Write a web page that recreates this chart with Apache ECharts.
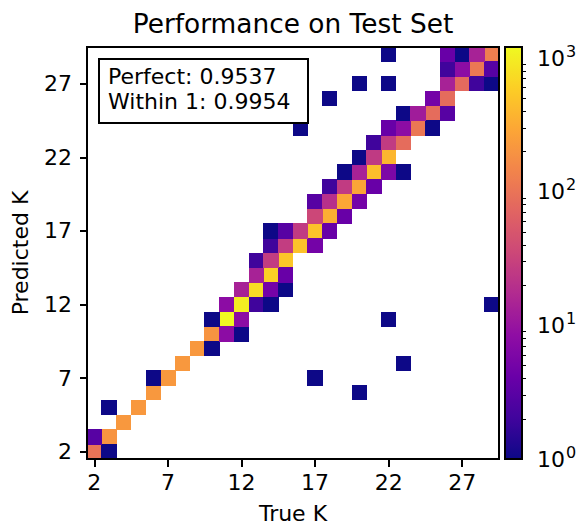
<!DOCTYPE html>
<html>
<head>
<meta charset="utf-8">
<script src="https://cdn.jsdelivr.net/npm/echarts@6/dist/echarts.min.js"></script>
<style>
html,body{margin:0;padding:0;background:#fff;}
#c{width:579px;height:525px;}
#c svg path{shape-rendering:crispEdges;}
</style>
</head>
<body>
<div id="c"></div>
<script>
// K values (categories for both axes)
const kLabels = ['2','3','4','5','6','7','8','9','10','11','12','13','14','15','16','17','18','19','20','21','22','23','24','25','26','27','28','29'];
// counts where True K == Predicted K (K = 2..29)
const diagonalCounts = [100,200,220,220,220,220,220,220,200,1209,1000,750,620,520,480,480,336,293,280,450,390,85,108,85,85,80,110,125];
// off-diagonal cells: [True K, Predicted K, count]
const offDiagonalCells = [
  [3,2,1],[2,3,3],[3,5,1],[20,6,1],[6,7,1],[17,7,1],[23,8,1],[10,9,1],
  [11,10,8],[12,10,1],[10,11,1],[12,11,8],[22,11,1],
  [11,12,8],[13,12,2],[14,12,1],[29,12,1],
  [12,13,14],[14,13,5],[15,13,1],[13,14,14],[15,14,4],
  [13,15,2],[14,15,27],[14,16,2],[15,16,27],[17,16,5],
  [14,17,1],[15,17,3],[16,17,26],[18,17,4],
  [17,18,35],[19,18,4],[17,19,3],[18,19,20],[20,19,5],
  [18,20,2],[19,20,26],[21,20,4],
  [19,21,1],[20,21,14],[22,21,6],[23,21,1],
  [20,22,1],[21,22,25],[21,23,2],[22,23,26],
  [16,24,1],[22,24,4],[23,24,8],[25,24,1],
  [23,25,1],[24,25,12],[26,25,3],[18,26,1],[25,26,5],
  [20,27,1],[22,27,1],[26,27,14],[28,27,2],[29,27,1],
  [26,28,2],[27,28,8],[29,28,3],
  [22,29,1],[26,29,4],[27,29,1],[28,29,14]
];
// colorbar major ticks (log10 of count) and their exponents
const colorbarTicks = [0,1,2,3];
const colorbarExponents = ['0','1','2','3'];
const scoreLines = ['Perfect: 0.9537','Within 1: 0.9954'];
const titleText = 'Performance on Test Set';
const xName = 'True K';
const yName = 'Predicted K';
const plasma = ['#0d0887','#41049d','#6a00a8','#8f0da4','#b12a90','#cc4778','#e16462','#f2844b','#fca636','#fcce25','#f0f921'];

const FONT = 'DejaVu Sans';
const vmax = Math.max(...diagonalCounts, ...offDiagonalCells.map(c => c[2]));
const logMax = Math.log10(vmax);

const cells = [];
diagonalCounts.forEach((c, i) => cells.push([i, i, Math.log10(c), c]));
offDiagonalCells.forEach(([t, p, c]) => cells.push([kLabels.indexOf(String(t)), kLabels.indexOf(String(p)), Math.log10(c), c]));

const minorTicks = [];
for (let d = 0; d < 4; d++) for (let m = 2; m <= 9; m++) {
  const v = d + Math.log10(m);
  if (v < logMax) minorTicks.push(v);
}

const PL = 87, PT = 47, PW = 412, PH = 412;
const CBL = 505, CBW = 17;
const LW = 1.75;
const black = '#000';

const catAxisCommon = {
  type: 'category', data: kLabels,
  axisLine: {show: true, lineStyle: {color: black, width: LW}},
  axisTick: {show: true, alignWithLabel: true, interval: 4, length: 7.5, lineStyle: {color: black, width: LW}},
  axisLabel: {interval: 4, fontSize: 22, fontFamily: FONT, color: black, margin: 15},
  splitLine: {show: false},
  nameLocation: 'middle',
  nameTextStyle: {fontSize: 22, fontFamily: FONT, color: black}
};

const chart = echarts.init(document.getElementById('c'), null, {renderer: 'svg', width: 579, height: 525});
chart.setOption({
  animation: false,
  backgroundColor: '#fff',
  grid: [
    {left: PL, top: PT, width: PW, height: PH, containLabel: false, outerBoundsMode: 'none'},
    {left: CBL, top: PT, width: CBW, height: PH, containLabel: false, outerBoundsMode: 'none'}
  ],
  xAxis: [
    Object.assign({}, catAxisCommon, {gridIndex: 0, position: 'bottom', name: xName, nameGap: 45,
      nameTextStyle: {fontSize: 22, fontFamily: FONT, color: black, lineHeight: 18},
      axisLabel: Object.assign({}, catAxisCommon.axisLabel, {margin: 12})}),
    {type: 'value', gridIndex: 1, show: false, min: 0, max: 1}
  ],
  yAxis: [
    Object.assign({}, catAxisCommon, {gridIndex: 0, position: 'left', name: yName, nameGap: 56, nameRotate: 90}),
    {
      type: 'value', gridIndex: 1, position: 'right', min: 0, max: logMax,
      axisLine: {show: false},
      axisTick: {show: true, customValues: colorbarTicks, length: 7.5, lineStyle: {color: black, width: LW}},
      axisLabel: {show: true, customValues: colorbarTicks, margin: 15,
        formatter: v => '{b|10}{s|' + colorbarExponents[colorbarTicks.indexOf(Math.round(v))] + '}',
        rich: {
          b: {fontSize: 22, fontFamily: FONT, color: black, lineHeight: 30, verticalAlign: 'middle'},
          s: {fontSize: 16, fontFamily: FONT, color: black, lineHeight: 16, verticalAlign: 'top', padding: [0, 0, 0, 1]}
        }},
      splitLine: {show: false}
    },
    {
      type: 'value', gridIndex: 1, position: 'right', min: 0, max: logMax,
      axisLine: {show: false},
      axisTick: {show: true, customValues: minorTicks, length: 4.3, lineStyle: {color: black, width: 1.3}},
      axisLabel: {show: false},
      splitLine: {show: false}
    }
  ],
  visualMap: {
    type: 'continuous', min: 0, max: logMax, dimension: 2, seriesIndex: 0,
    inRange: {color: plasma},
    orient: 'vertical', left: CBL, top: PT, itemWidth: CBW, itemHeight: PH,
    padding: 0, text: null, showLabel: false, calculable: false, hoverLink: false
  },
  series: [{
    type: 'heatmap', xAxisIndex: 0, yAxisIndex: 0, data: cells,
    itemStyle: {borderWidth: 0}, emphasis: {disabled: true}
  }],
  graphic: [
    {type: 'rect', z: 100, shape: {x: PL, y: PT, width: PW, height: PH}, style: {fill: 'none', stroke: black, lineWidth: LW}},
    {type: 'rect', z: 100, shape: {x: CBL, y: PT, width: CBW, height: PH}, style: {fill: 'none', stroke: black, lineWidth: LW}},
    {type: 'text', z: 100, x: PL + PW / 2, y: 23, style: {text: titleText, fontSize: 26.4, fontFamily: FONT, fill: black, align: 'center', verticalAlign: 'middle'}},
    {type: 'rect', z: 101, shape: {x: 99, y: 59, width: 209, height: 64}, style: {fill: '#fff', stroke: black, lineWidth: LW}},
    {type: 'text', z: 102, x: 108, y: 76.5, style: {text: scoreLines[0], fontSize: 22, fontFamily: FONT, fill: black, align: 'left', verticalAlign: 'middle'}},
    {type: 'text', z: 102, x: 108, y: 101.5, style: {text: scoreLines[1], fontSize: 22, fontFamily: FONT, fill: black, align: 'left', verticalAlign: 'middle'}}
  ]
});
</script>
</body>
</html>
